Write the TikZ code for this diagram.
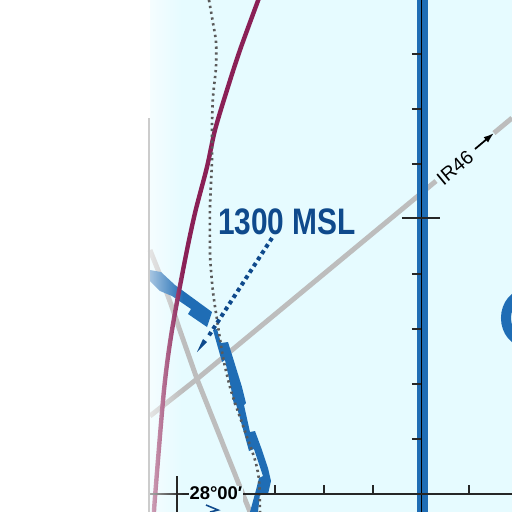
\documentclass[tikz,border=0pt]{standalone}
\usepackage{fontspec}
\setmainfont{Liberation Sans}
\usetikzlibrary{arrows.meta,fadings}
\definecolor{waterblue}{HTML}{E6FBFF}
\definecolor{shoreblue}{HTML}{1F6DB5}
\definecolor{labelblue}{HTML}{0F4A8C}
\definecolor{routegray}{HTML}{BDBDBD}
\definecolor{classmaroon}{HTML}{8A2056}
\definecolor{dotgray}{HTML}{5A5A5A}
\tikzfading[name=bandfade,left color=transparent!20,right color=transparent!100]
\tikzset{
  routeline/.style={routegray,line width=2.8pt},
  tick/.style={black!85,line width=0.7pt},
  dotline/.style={dotgray,line width=1.5pt,dash pattern=on 1.3pt off 2.05pt},
  bluedots/.style={labelblue,line width=2.3pt,dash pattern=on 2.2pt off 2.05pt},
}

\begin{document}
\begin{tikzpicture}[x=0.02cm,y=-0.02cm]
  \useasboundingbox (0,0) rectangle (512,512);
  \fill[white] (0,0) rectangle (512,512);
  \fill[waterblue] (150,0) rectangle (512,512);
  % gray routes
  \draw[routeline] (150,416) -- (197,379) -- (436,181);
  \draw[routeline] (494,133) -- (512,118);
  \draw[routeline] (150,250) .. controls (160,275) and (170,300) .. (178,325) -- (197,379) -- (250,512);
  % shoreline on the right
  \fill[shoreblue] (417,0) rectangle (428,512);
  \draw[black,line width=0.8pt] (421.5,0) -- (421.5,512);
  \draw[shoreblue,line width=5.7pt] (526,342) arc[start angle=90,end angle=270,x radius=20,y radius=24];
  % blue airway segments
  \fill[shoreblue] (150,270) -- (161,272) -- (175,285) -- (212,312) -- (207,327) -- (188,314) -- (191,309) -- (172,296) -- (160,291) -- (150,281) -- cycle;
  \fill[shoreblue] (217,329) -- (221,343) -- (228,342) -- (233,358) -- (242,387) -- (246,403) -- (244,405) -- (250,432) -- (255,431) -- (262,450) -- (268,468) -- (271,481) -- (268,494) -- (260,494) -- (258,512) -- (250,512) -- (256,490) -- (259,478) -- (263,476) -- (254,449) -- (249,451) -- (246,440) -- (236,404) -- (234,405) -- (231,388) -- (225,360) -- (222,362) -- (213,330) -- cycle;
  \draw[labelblue,line width=0.9pt] (206,505) -- (218,510) -- (210,512);
  % maroon boundary
  \draw[classmaroon,line width=2.5pt] plot[smooth] coordinates {(259,-2) (240,50) (227,90) (215,130) (207,167) (195,213) (185,260) (172,330) (164,390) (155,497) (154,514)};
  % dotted lines
  \draw[dotline] plot[smooth] coordinates {(209,0) (213,23) (216,42) (216,67) (213,97) (212,127) (212,160) (210,207) (210,252) (211,270) (213,292) (216,313) (223,357) (230,387) (235,403) (247,437) (255,460) (259,480) (260,512)};
  \draw[bluedots] (272,238) -- (208,337);
  \fill[labelblue] (197,352) -- (203,339) -- (207,342) -- cycle;
  % ticks
  \foreach \tickY in {54,109,164,274,329,384,439}{
    \draw[tick] (412,\tickY) -- (421,\tickY);
  }
  \draw[tick] (402,218) -- (440,218);
  \draw[tick] (150,494) -- (512,494);
  % white band over the left edge
  \fill[white,path fading=bandfade] (139,0) rectangle (183,512);
  \draw[black!20,line width=1pt] (149,118) -- (149,512);
  \draw[tick] (177,476) -- (177,512);
  \foreach \tickX in {275,324,373,469}{
    \draw[tick] (\tickX,485) -- (\tickX,494);
  }
  % labels
  \node[labelblue,font=\bfseries\fontsize{21}{21}\selectfont,xscale=0.81,inner sep=0pt] (altlabel) at (287,222) {1300 MSL};
  \fill[waterblue] (189,486) rectangle (243,502);
  \node[black,font=\bfseries\fontsize{10.5}{11}\selectfont,inner sep=0pt] (latlabel) at (216,493) {28°00′};
  \node[black,font=\fontsize{11}{12}\selectfont,rotate=39.6,inner sep=0pt] (routelabel) at (455,168) {IR46};
  \coordinate (arrowtail) at (475,149);
  \coordinate (arrowhead) at (494,133);
  \draw[-{Latex[length=6pt,width=4pt]},black,line width=1pt] (arrowtail) -- (arrowhead);
\end{tikzpicture}
\end{document}
